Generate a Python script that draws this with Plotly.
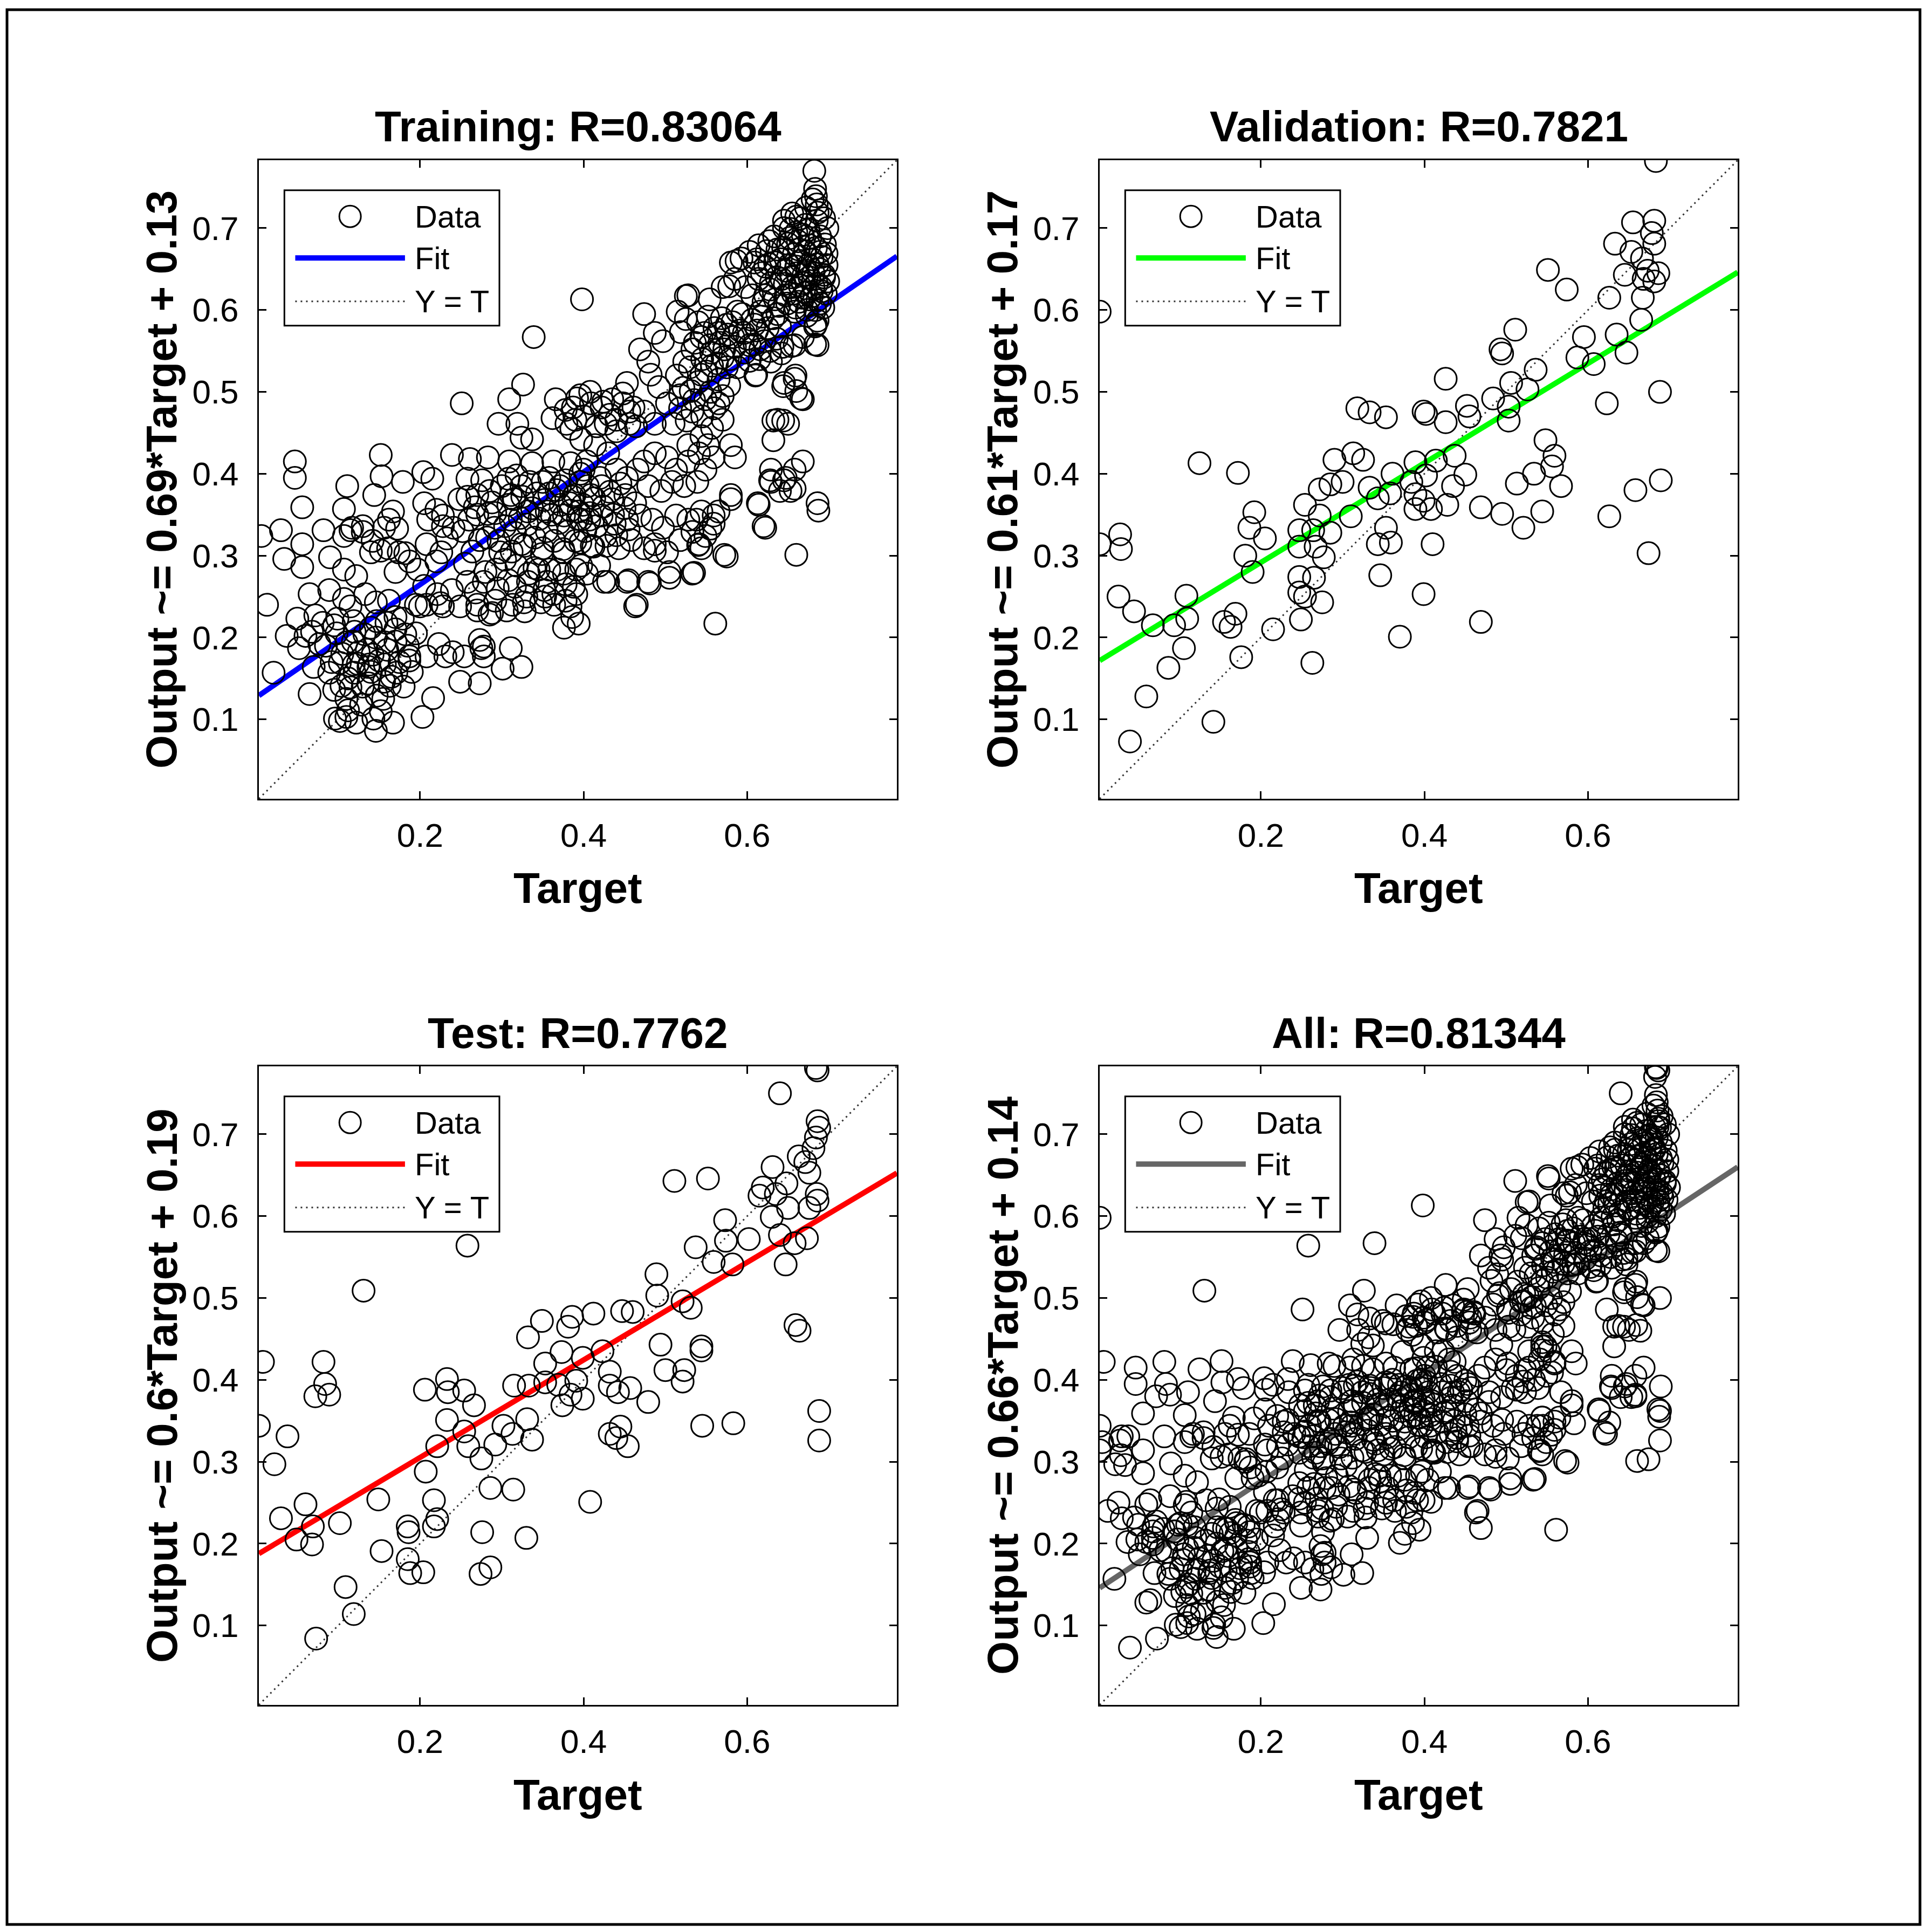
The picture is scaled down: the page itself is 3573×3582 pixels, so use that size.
import plotly.graph_objects as go
from plotly.subplots import make_subplots

W, H = 3573, 3582

# (target, output) pairs
train_pts = [
    (0.398, 0.613), (0.339, 0.567), (0.326, 0.509), (0.309, 0.491), (0.251, 0.486), (0.296, 0.461),
    (0.319, 0.461), (0.362, 0.468), (0.387, 0.481), (0.324, 0.444), (0.337, 0.442), (0.390, 0.466),
    (0.397, 0.442), (0.366, 0.491), (0.379, 0.461),
    (0.047, 0.415), (0.047, 0.395), (0.152, 0.423), (0.153, 0.397), (0.111, 0.385), (0.056, 0.359),
    (0.107, 0.357), (0.144, 0.374), (0.179, 0.390), (0.204, 0.402), (0.239, 0.423), (0.261, 0.418),
    (0.283, 0.420), (0.309, 0.415), (0.337, 0.413), (0.363, 0.415), (0.384, 0.413), (0.400, 0.405),
    (0.006, 0.324), (0.030, 0.331), (0.082, 0.331), (0.056, 0.314), (0.034, 0.296), (0.056, 0.286),
    (0.090, 0.298), (0.107, 0.324), (0.117, 0.334), (0.130, 0.329), (0.140, 0.304), (0.156, 0.334),
    (0.161, 0.309), (0.174, 0.304), (0.187, 0.293), (0.197, 0.283), (0.210, 0.344), (0.228, 0.349),
    (0.241, 0.334), (0.260, 0.344), (0.208, 0.314), (0.226, 0.304), (0.273, 0.319), (0.291, 0.334),
    (0.311, 0.344), (0.332, 0.354), (0.355, 0.354), (0.376, 0.349), (0.397, 0.344), (0.324, 0.385),
    (0.350, 0.390), (0.371, 0.385), (0.389, 0.374), (0.311, 0.374), (0.285, 0.379), (0.267, 0.359),
    (0.298, 0.304), (0.324, 0.314), (0.350, 0.309), (0.376, 0.304), (0.397, 0.288), (0.368, 0.283),
    (0.345, 0.283), (0.318, 0.288), (0.293, 0.283),
    (0.013, 0.240), (0.065, 0.253), (0.089, 0.258), (0.050, 0.223), (0.037, 0.202), (0.052, 0.187),
    (0.068, 0.207), (0.081, 0.218), (0.099, 0.223), (0.115, 0.238), (0.133, 0.253), (0.146, 0.243),
    (0.120, 0.207), (0.140, 0.212), (0.159, 0.218), (0.179, 0.223), (0.200, 0.238), (0.221, 0.253),
    (0.239, 0.258), (0.205, 0.263), (0.228, 0.238), (0.249, 0.238), (0.270, 0.233), (0.285, 0.228),
    (0.306, 0.233), (0.327, 0.243), (0.348, 0.243), (0.363, 0.253), (0.384, 0.238), (0.376, 0.212),
    (0.355, 0.268), (0.332, 0.268), (0.273, 0.197), (0.275, 0.187), (0.278, 0.177), (0.311, 0.187),
    (0.324, 0.164), (0.301, 0.162), (0.254, 0.177), (0.231, 0.177), (0.223, 0.192), (0.249, 0.146),
    (0.273, 0.144), (0.021, 0.157), (0.065, 0.131), (0.089, 0.157), (0.104, 0.141), (0.120, 0.157),
    (0.138, 0.167), (0.156, 0.146), (0.171, 0.157), (0.187, 0.172), (0.096, 0.101), (0.112, 0.111),
    (0.122, 0.096), (0.143, 0.101), (0.146, 0.086), (0.167, 0.096), (0.216, 0.126), (0.203, 0.103),
    (0.107, 0.283), (0.122, 0.275), (0.115, 0.331), (0.130, 0.336), (0.142, 0.318), (0.162, 0.344),
    (0.167, 0.354), (0.172, 0.333), (0.152, 0.306), (0.170, 0.280), (0.182, 0.303), (0.205, 0.364),
    (0.220, 0.356), (0.228, 0.336), (0.233, 0.321), (0.220, 0.293), (0.215, 0.394), (0.258, 0.394),
    (0.248, 0.369), (0.270, 0.374), (0.283, 0.351), (0.308, 0.394), (0.315, 0.369), (0.358, 0.376),
    (0.383, 0.364), (0.107, 0.247), (0.072, 0.227), (0.095, 0.215), (0.060, 0.202), (0.077, 0.192),
    (0.110, 0.194), (0.125, 0.182), (0.142, 0.179), (0.157, 0.194), (0.170, 0.210), (0.182, 0.204),
    (0.162, 0.245), (0.170, 0.225), (0.195, 0.240), (0.208, 0.240), (0.225, 0.242), (0.270, 0.240),
    (0.288, 0.230), (0.258, 0.268), (0.278, 0.268), (0.295, 0.260), (0.313, 0.240), (0.330, 0.250),
    (0.353, 0.250), (0.378, 0.265), (0.378, 0.245), (0.386, 0.225), (0.308, 0.270), (0.333, 0.278),
    (0.358, 0.283), (0.278, 0.189), (0.240, 0.182), (0.208, 0.177), (0.187, 0.177), (0.102, 0.169),
    (0.119, 0.167), (0.137, 0.164), (0.157, 0.167), (0.070, 0.164), (0.095, 0.136), (0.115, 0.139),
    (0.137, 0.144), (0.147, 0.129), (0.163, 0.141), (0.102, 0.098), (0.110, 0.103), (0.132, 0.204),
    (0.147, 0.220), (0.119, 0.220),
    (0.682, 0.770), (0.684, 0.739), (0.685, 0.729), (0.686, 0.719), (0.685, 0.709), (0.645, 0.709),
    (0.660, 0.714), (0.671, 0.704), (0.694, 0.712), (0.653, 0.699),
    (0.614, 0.679), (0.627, 0.684), (0.637, 0.674), (0.650, 0.681), (0.663, 0.674), (0.676, 0.679),
    (0.689, 0.671), (0.697, 0.669), (0.609, 0.658), (0.622, 0.653), (0.634, 0.658), (0.647, 0.648),
    (0.660, 0.653), (0.673, 0.648), (0.686, 0.656), (0.694, 0.643), (0.614, 0.638), (0.629, 0.633),
    (0.642, 0.638), (0.655, 0.628), (0.668, 0.633), (0.681, 0.628), (0.691, 0.623), (0.622, 0.618),
    (0.634, 0.613), (0.647, 0.618), (0.663, 0.610), (0.676, 0.613), (0.689, 0.608), (0.616, 0.598),
    (0.637, 0.595), (0.658, 0.598), (0.673, 0.593), (0.686, 0.587), (0.580, 0.658), (0.593, 0.663),
    (0.603, 0.671), (0.585, 0.638), (0.598, 0.628), (0.606, 0.618), (0.684, 0.582), (0.686, 0.557),
    (0.668, 0.567), (0.658, 0.557), (0.629, 0.537), (0.642, 0.547), (0.611, 0.521), (0.645, 0.511),
    (0.658, 0.516), (0.660, 0.501), (0.668, 0.491), (0.637, 0.466), (0.650, 0.461), (0.632, 0.441),
    (0.668, 0.415), (0.658, 0.405), (0.647, 0.395), (0.653, 0.379), (0.629, 0.405), (0.629, 0.390),
    (0.640, 0.379), (0.614, 0.362), (0.622, 0.334), (0.686, 0.364), (0.687, 0.355), (0.660, 0.301),
    (0.474, 0.595), (0.487, 0.572), (0.497, 0.562), (0.515, 0.598), (0.528, 0.618), (0.554, 0.613),
    (0.570, 0.628), (0.588, 0.598), (0.469, 0.552), (0.479, 0.537), (0.453, 0.511), (0.482, 0.521),
    (0.492, 0.506), (0.523, 0.537), (0.533, 0.552), (0.544, 0.567), (0.554, 0.557), (0.565, 0.572),
    (0.575, 0.582), (0.583, 0.567), (0.596, 0.572), (0.609, 0.582), (0.603, 0.557), (0.616, 0.552),
    (0.570, 0.542), (0.557, 0.532), (0.544, 0.521),
    (0.396, 0.496), (0.409, 0.486), (0.422, 0.481), (0.435, 0.491), (0.448, 0.486), (0.461, 0.481),
    (0.427, 0.461), (0.440, 0.466), (0.456, 0.461), (0.474, 0.476), (0.487, 0.461), (0.502, 0.486),
    (0.518, 0.496), (0.531, 0.501), (0.510, 0.461), (0.533, 0.476), (0.549, 0.491), (0.565, 0.486),
    (0.570, 0.466), (0.557, 0.456), (0.544, 0.446), (0.528, 0.435),
    (0.414, 0.435), (0.430, 0.425), (0.404, 0.415), (0.440, 0.405), (0.453, 0.395), (0.466, 0.405),
    (0.474, 0.415), (0.487, 0.425), (0.502, 0.420), (0.513, 0.405), (0.528, 0.415), (0.541, 0.425),
    (0.552, 0.435), (0.559, 0.420), (0.580, 0.435), (0.585, 0.420), (0.549, 0.405), (0.539, 0.390),
    (0.523, 0.385), (0.508, 0.390), (0.495, 0.379), (0.479, 0.385),
    (0.396, 0.390), (0.409, 0.374), (0.422, 0.385), (0.435, 0.369), (0.451, 0.374), (0.463, 0.364),
    (0.394, 0.354), (0.407, 0.344), (0.422, 0.349), (0.438, 0.339), (0.453, 0.344), (0.469, 0.349),
    (0.484, 0.344), (0.497, 0.334), (0.513, 0.349), (0.528, 0.344), (0.544, 0.354), (0.559, 0.349),
    (0.580, 0.369), (0.396, 0.316), (0.412, 0.311), (0.427, 0.324), (0.443, 0.309), (0.458, 0.319),
    (0.474, 0.309), (0.487, 0.314), (0.502, 0.304), (0.518, 0.319), (0.533, 0.329), (0.541, 0.314),
    (0.549, 0.324), (0.559, 0.339), (0.391, 0.283), (0.404, 0.278), (0.419, 0.288), (0.430, 0.268),
    (0.453, 0.268), (0.479, 0.268), (0.505, 0.273), (0.533, 0.278), (0.572, 0.301), (0.575, 0.299),
    (0.544, 0.309), (0.463, 0.238), (0.391, 0.253), (0.394, 0.217), (0.561, 0.217),
    (0.580, 0.374), (0.613, 0.364), (0.620, 0.336), (0.540, 0.313), (0.565, 0.354), (0.555, 0.333),
    (0.538, 0.344), (0.505, 0.280), (0.535, 0.279), (0.481, 0.266), (0.455, 0.270), (0.425, 0.268),
    (0.465, 0.240), (0.487, 0.306), (0.645, 0.392), (0.658, 0.382), (0.628, 0.392),
    # dense upper-right block
    (0.612, 0.662), (0.618, 0.645), (0.624, 0.672), (0.628, 0.625), (0.633, 0.690), (0.636, 0.640),
    (0.639, 0.605), (0.641, 0.662), (0.644, 0.676), (0.646, 0.632), (0.649, 0.608), (0.651, 0.655),
    (0.652, 0.688), (0.654, 0.640), (0.656, 0.620), (0.657, 0.668), (0.659, 0.603), (0.661, 0.645),
    (0.662, 0.684), (0.664, 0.630), (0.665, 0.660), (0.667, 0.615), (0.668, 0.692), (0.669, 0.643),
    (0.671, 0.672), (0.672, 0.622), (0.673, 0.600), (0.675, 0.655), (0.676, 0.640), (0.677, 0.688),
    (0.679, 0.617), (0.680, 0.662), (0.681, 0.645), (0.683, 0.600), (0.684, 0.676), (0.685, 0.632),
    (0.686, 0.612), (0.688, 0.650), (0.689, 0.690), (0.690, 0.628), (0.691, 0.665), (0.693, 0.603),
    (0.694, 0.640), (0.695, 0.680), (0.696, 0.620), (0.697, 0.655), (0.698, 0.700), (0.699, 0.635),
    (0.620, 0.610), (0.627, 0.656), (0.645, 0.700), (0.655, 0.718), (0.665, 0.712), (0.672, 0.725),
    (0.680, 0.735), (0.690, 0.722), (0.683, 0.748), (0.660, 0.695), (0.675, 0.698),
    (0.536, 0.560), (0.540, 0.585), (0.545, 0.540), (0.548, 0.572), (0.552, 0.592), (0.556, 0.548),
    (0.560, 0.578), (0.563, 0.535), (0.566, 0.560), (0.569, 0.590), (0.572, 0.552), (0.576, 0.570),
    (0.579, 0.540), (0.582, 0.585), (0.585, 0.555), (0.588, 0.530), (0.591, 0.575), (0.594, 0.595),
    (0.597, 0.548), (0.600, 0.565), (0.603, 0.538), (0.606, 0.588), (0.609, 0.558), (0.612, 0.575),
    (0.615, 0.540), (0.618, 0.592), (0.621, 0.562), (0.625, 0.578), (0.628, 0.550), (0.632, 0.590),
    (0.636, 0.565), (0.640, 0.580), (0.643, 0.555), (0.525, 0.589), (0.519, 0.573), (0.525, 0.617),
    (0.587, 0.660), (0.578, 0.629), (0.610, 0.520), (0.644, 0.507), (0.659, 0.520), (0.666, 0.492),
    (0.644, 0.465), (0.632, 0.465), (0.683, 0.558), (0.683, 0.580), (0.654, 0.556),
    (0.514, 0.520), (0.518, 0.480), (0.522, 0.505), (0.526, 0.465), (0.530, 0.530), (0.535, 0.490),
    (0.540, 0.512), (0.545, 0.470), (0.550, 0.525), (0.555, 0.500), (0.560, 0.480), (0.565, 0.515),
    (0.570, 0.495), (0.575, 0.530), (0.578, 0.508),
    # dense middle block
    (0.292, 0.352), (0.296, 0.318), (0.300, 0.385), (0.304, 0.336), (0.308, 0.362), (0.312, 0.305),
    (0.316, 0.328), (0.318, 0.398), (0.322, 0.346), (0.325, 0.372), (0.328, 0.312), (0.331, 0.338),
    (0.334, 0.390), (0.337, 0.358), (0.340, 0.322), (0.343, 0.376), (0.346, 0.345), (0.349, 0.302),
    (0.352, 0.368), (0.355, 0.330), (0.358, 0.395), (0.361, 0.350), (0.364, 0.318), (0.367, 0.380),
    (0.370, 0.340), (0.372, 0.362), (0.375, 0.308), (0.378, 0.392), (0.381, 0.330), (0.384, 0.355),
    (0.387, 0.372), (0.390, 0.318), (0.393, 0.345), (0.396, 0.400), (0.399, 0.362), (0.402, 0.330),
    (0.405, 0.385), (0.408, 0.352), (0.410, 0.312), (0.413, 0.370), (0.416, 0.336), (0.420, 0.395),
    (0.424, 0.360), (0.428, 0.312), (0.432, 0.378), (0.436, 0.350), (0.440, 0.325), (0.445, 0.388),
    (0.450, 0.358), (0.455, 0.332),
    (0.378, 0.478), (0.385, 0.455), (0.392, 0.492), (0.400, 0.470), (0.408, 0.500), (0.416, 0.458),
    (0.424, 0.488), (0.432, 0.472), (0.440, 0.452), (0.448, 0.498), (0.456, 0.476), (0.464, 0.458),
    (0.252, 0.330), (0.258, 0.372), (0.264, 0.305), (0.270, 0.350), (0.276, 0.392), (0.282, 0.322),
    (0.288, 0.365), (0.255, 0.290), (0.268, 0.255), (0.280, 0.280), (0.292, 0.245), (0.304, 0.295),
    (0.316, 0.262), (0.328, 0.232), (0.340, 0.285), (0.352, 0.258), (0.364, 0.240), (0.376, 0.278),
    (0.388, 0.262),
    # dense lower-left block
    (0.085, 0.190), (0.092, 0.170), (0.098, 0.205), (0.105, 0.180), (0.112, 0.150), (0.118, 0.195),
    (0.124, 0.168), (0.130, 0.140), (0.135, 0.185), (0.140, 0.158), (0.146, 0.200), (0.150, 0.172),
    (0.155, 0.125), (0.160, 0.185), (0.165, 0.152), (0.170, 0.195), (0.175, 0.170), (0.180, 0.140),
    (0.185, 0.190), (0.190, 0.158), (0.195, 0.205), (0.128, 0.118), (0.110, 0.125), (0.152, 0.110),
]

val_pts = [
    (0.683, 0.782), (0.003, 0.598), (0.655, 0.707), (0.681, 0.709), (0.678, 0.694), (0.633, 0.681),
    (0.653, 0.671), (0.681, 0.681), (0.666, 0.663), (0.645, 0.643), (0.673, 0.648), (0.686, 0.645),
    (0.668, 0.638), (0.681, 0.635), (0.551, 0.649), (0.574, 0.625), (0.626, 0.615), (0.667, 0.615),
    (0.665, 0.588), (0.511, 0.576), (0.493, 0.552), (0.495, 0.547), (0.595, 0.567), (0.635, 0.570),
    (0.587, 0.542), (0.607, 0.534), (0.647, 0.548), (0.536, 0.527), (0.426, 0.516), (0.506, 0.511),
    (0.526, 0.503), (0.484, 0.492), (0.503, 0.482), (0.503, 0.465), (0.623, 0.486), (0.688, 0.500),
    (0.318, 0.480), (0.333, 0.475), (0.353, 0.469), (0.399, 0.476), (0.402, 0.473), (0.426, 0.463),
    (0.452, 0.483), (0.455, 0.470), (0.548, 0.441), (0.559, 0.422), (0.556, 0.409), (0.567, 0.385),
    (0.534, 0.400), (0.513, 0.388), (0.544, 0.354), (0.521, 0.334), (0.495, 0.351), (0.469, 0.359),
    (0.658, 0.380), (0.689, 0.392), (0.626, 0.348), (0.674, 0.303), (0.125, 0.413), (0.172, 0.401),
    (0.290, 0.417), (0.313, 0.425), (0.325, 0.417), (0.389, 0.414), (0.437, 0.422), (0.414, 0.416),
    (0.361, 0.400), (0.384, 0.390), (0.402, 0.398), (0.450, 0.399), (0.435, 0.385), (0.285, 0.387),
    (0.300, 0.390), (0.272, 0.381), (0.333, 0.383), (0.343, 0.370), (0.358, 0.376), (0.389, 0.375),
    (0.399, 0.367), (0.389, 0.357), (0.408, 0.357), (0.428, 0.362), (0.254, 0.362), (0.272, 0.349),
    (0.310, 0.348), (0.192, 0.353), (0.186, 0.334), (0.205, 0.321), (0.247, 0.331), (0.264, 0.331),
    (0.285, 0.328), (0.247, 0.311), (0.267, 0.311), (0.277, 0.298), (0.353, 0.334), (0.343, 0.314),
    (0.359, 0.316), (0.410, 0.314), (0.028, 0.326), (0.003, 0.314), (0.029, 0.308), (0.181, 0.300),
    (0.190, 0.280), (0.247, 0.274), (0.265, 0.273), (0.247, 0.255), (0.254, 0.250), (0.275, 0.243),
    (0.249, 0.222), (0.346, 0.276), (0.399, 0.253), (0.026, 0.250), (0.045, 0.232), (0.068, 0.215),
    (0.109, 0.251), (0.110, 0.223), (0.094, 0.215), (0.106, 0.187), (0.155, 0.219), (0.169, 0.229),
    (0.163, 0.213), (0.215, 0.210), (0.176, 0.176), (0.087, 0.163), (0.263, 0.169), (0.370, 0.201),
    (0.469, 0.219), (0.060, 0.128), (0.142, 0.097), (0.040, 0.073),
]

test_pts = [
    (0.684, 0.781), (0.686, 0.778), (0.640, 0.750), (0.686, 0.716), (0.688, 0.708), (0.684, 0.696),
    (0.681, 0.683), (0.663, 0.673), (0.671, 0.666), (0.631, 0.660), (0.676, 0.653), (0.648, 0.640),
    (0.619, 0.635), (0.615, 0.625), (0.635, 0.627), (0.685, 0.627), (0.686, 0.619), (0.650, 0.610),
    (0.676, 0.610), (0.630, 0.599), (0.511, 0.643), (0.552, 0.646), (0.573, 0.595), (0.574, 0.570),
    (0.602, 0.572), (0.640, 0.577), (0.673, 0.573), (0.658, 0.567), (0.537, 0.562), (0.559, 0.544),
    (0.582, 0.541), (0.647, 0.541), (0.258, 0.564), (0.131, 0.509), (0.489, 0.529), (0.490, 0.503),
    (0.521, 0.496), (0.531, 0.488), (0.659, 0.467), (0.664, 0.460), (0.349, 0.472), (0.386, 0.477),
    (0.412, 0.481), (0.447, 0.484), (0.460, 0.483), (0.381, 0.465), (0.332, 0.452), (0.494, 0.443),
    (0.544, 0.441), (0.544, 0.436), (0.373, 0.434), (0.353, 0.420), (0.399, 0.427), (0.423, 0.435),
    (0.432, 0.410), (0.500, 0.412), (0.523, 0.412), (0.521, 0.398), (0.008, 0.422), (0.082, 0.422),
    (0.084, 0.395), (0.072, 0.380), (0.089, 0.382), (0.233, 0.401), (0.206, 0.388), (0.234, 0.385),
    (0.254, 0.387), (0.266, 0.369), (0.315, 0.393), (0.333, 0.393), (0.353, 0.397), (0.369, 0.394),
    (0.391, 0.399), (0.384, 0.382), (0.374, 0.369), (0.399, 0.377), (0.432, 0.393), (0.442, 0.385),
    (0.457, 0.390), (0.479, 0.373), (0.688, 0.362), (0.688, 0.326), (0.545, 0.344), (0.583, 0.347),
    (0.003, 0.344), (0.038, 0.331), (0.233, 0.351), (0.254, 0.337), (0.302, 0.344), (0.331, 0.352),
    (0.313, 0.334), (0.337, 0.327), (0.292, 0.321), (0.259, 0.319), (0.275, 0.304), (0.221, 0.319),
    (0.432, 0.334), (0.445, 0.343), (0.440, 0.329), (0.454, 0.319), (0.022, 0.297), (0.207, 0.288),
    (0.286, 0.268), (0.314, 0.266), (0.408, 0.251), (0.149, 0.254), (0.060, 0.248), (0.030, 0.231),
    (0.069, 0.221), (0.102, 0.225), (0.049, 0.205), (0.068, 0.199), (0.217, 0.253), (0.221, 0.230),
    (0.185, 0.221), (0.186, 0.214), (0.217, 0.221), (0.276, 0.214), (0.330, 0.207), (0.153, 0.191),
    (0.185, 0.181), (0.188, 0.164), (0.204, 0.165), (0.274, 0.163), (0.286, 0.171), (0.109, 0.147),
    (0.119, 0.114), (0.073, 0.084),
]

panel_names = ["Training", "Validation", "Test", "All"]
r_values = ["0.83064", "0.7821", "0.7762", "0.81344"]
fit_slopes = [0.688, 0.608, 0.596, 0.659]
fit_intercepts = [0.127, 0.170, 0.186, 0.144]
fit_colors = ["#0000ff", "#00ff00", "#ff0000", "#666666"]
axis_lims = [0.003, 0.783]
x_ticks = [0.2, 0.4, 0.6]
y_ticks = [0.1, 0.2, 0.3, 0.4, 0.5, 0.6, 0.7]
legend_labels = ["Data", "Fit", "Y = T"]

all_pts = train_pts + val_pts + test_pts
panel_pts = [train_pts, val_pts, test_pts, all_pts]

FONT = "Liberation Sans, Arial, sans-serif"

# panel boxes in page pixels: left, top, width, height
lefts = [480, 2039]
tops = [297, 1977]
box_w, box_h = 1183, 1184

fig = make_subplots(rows=2, cols=2)

for i in range(4):
    row, col = i // 2 + 1, i % 2 + 1
    pts = panel_pts[i]
    t = [p[0] for p in pts]
    y = [p[1] for p in pts]
    m, b = fit_slopes[i], fit_intercepts[i]

    # Y = T reference
    fig.add_trace(go.Scatter(x=axis_lims, y=axis_lims, mode="lines",
                             line=dict(color="#333333", width=3, dash="3px,7px"),
                             showlegend=False, hoverinfo="skip"), row=row, col=col)
    # regression fit
    fig.add_trace(go.Scatter(x=axis_lims, y=[m * v + b for v in axis_lims], mode="lines",
                             line=dict(color=fit_colors[i], width=10),
                             showlegend=False), row=row, col=col)
    # data circles
    fig.add_trace(go.Scatter(x=t, y=y, mode="markers",
                             marker=dict(symbol="circle-open", size=41, color="black",
                                         line=dict(width=3, color="black")),
                             showlegend=False), row=row, col=col)

    sfx = "" if i == 0 else str(i + 1)
    xd, yd = "x%s domain" % sfx, "y%s domain" % sfx
    left, top = lefts[col - 1], tops[row - 1]
    fig.update_xaxes(domain=[left / W, (left + box_w) / W], row=row, col=col)
    fig.update_yaxes(domain=[1 - (top + box_h) / H, 1 - top / H], row=row, col=col)

    # title, axis labels
    fig.add_annotation(text="%s: R=%s" % (panel_names[i], r_values[i]), xref=xd, yref=yd,
                       x=0.5, y=1, yshift=62, showarrow=False, yanchor="middle",
                       font=dict(family=FONT, size=80, color="black", weight="bold"))
    fig.add_annotation(text="Target", xref=xd, yref=yd, x=0.5, y=0, yshift=-166,
                       showarrow=False, yanchor="middle",
                       font=dict(family=FONT, size=80, color="black", weight="bold"))
    fig.add_annotation(text="Output ~= %s*Target + %s" % (format(m, ".2g"), format(b, ".2g")),
                       xref=xd, yref=yd, x=0, y=0.5, xshift=-180, textangle=-90,
                       showarrow=False, xanchor="center",
                       font=dict(family=FONT, size=80, color="black", weight="bold"))

    # legend box drawn inside the upper left of the axes
    fig.add_shape(type="rect", xref=xd, yref=yd, x0=0.040, x1=0.377, y0=0.741, y1=0.953,
                  line=dict(color="black", width=3), fillcolor="white", layer="above")
    fig.add_shape(type="circle", xref=xd, yref=yd, xsizemode="pixel", ysizemode="pixel",
                  xanchor=0.143, yanchor=0.912, x0=-20, x1=20, y0=-20, y1=20,
                  line=dict(color="black", width=3), layer="above")
    fig.add_shape(type="line", xref=xd, yref=yd, x0=0.057, x1=0.229, y0=0.847, y1=0.847,
                  line=dict(color=fit_colors[i], width=10), layer="above")
    fig.add_shape(type="line", xref=xd, yref=yd, x0=0.057, x1=0.229, y0=0.779, y1=0.779,
                  line=dict(color="#333333", width=3, dash="3px,7px"), layer="above")
    for lab, ly in zip(legend_labels, [0.912, 0.847, 0.779]):
        fig.add_annotation(text=lab, xref=xd, yref=yd, x=0.243, y=ly, showarrow=False,
                           xanchor="left", yanchor="middle",
                           font=dict(family=FONT, size=58, color="black"))

fig.update_xaxes(range=axis_lims, tickvals=x_ticks, ticktext=["%.1f" % v for v in x_ticks],
                 ticks="inside", ticklen=14, tickwidth=3, tickcolor="black",
                 showline=True, linewidth=3, linecolor="black", mirror="ticks",
                 showgrid=False, zeroline=False, ticklabelstandoff=12,
                 tickfont=dict(family=FONT, size=62, color="black"))
fig.update_yaxes(range=axis_lims, tickvals=y_ticks, ticktext=["%.1f" % v for v in y_ticks],
                 ticks="inside", ticklen=14, tickwidth=3, tickcolor="black",
                 showline=True, linewidth=3, linecolor="black", mirror="ticks",
                 showgrid=False, zeroline=False, ticklabelstandoff=22,
                 tickfont=dict(family=FONT, size=62, color="black"))

# outer frame round the whole figure
fig.add_shape(type="rect", xref="paper", yref="paper", x0=13 / W, x1=3560 / W,
              y0=1 - 3568 / H, y1=1 - 18 / H, line=dict(color="black", width=5))

fig.update_layout(width=W, height=H, margin=dict(l=0, r=0, t=0, b=0),
                  paper_bgcolor="white", plot_bgcolor="white", showlegend=False)

fig.write_html("out.html", config={"displayModeBar": False},
               post_script="document.body.style.margin='0px';")
